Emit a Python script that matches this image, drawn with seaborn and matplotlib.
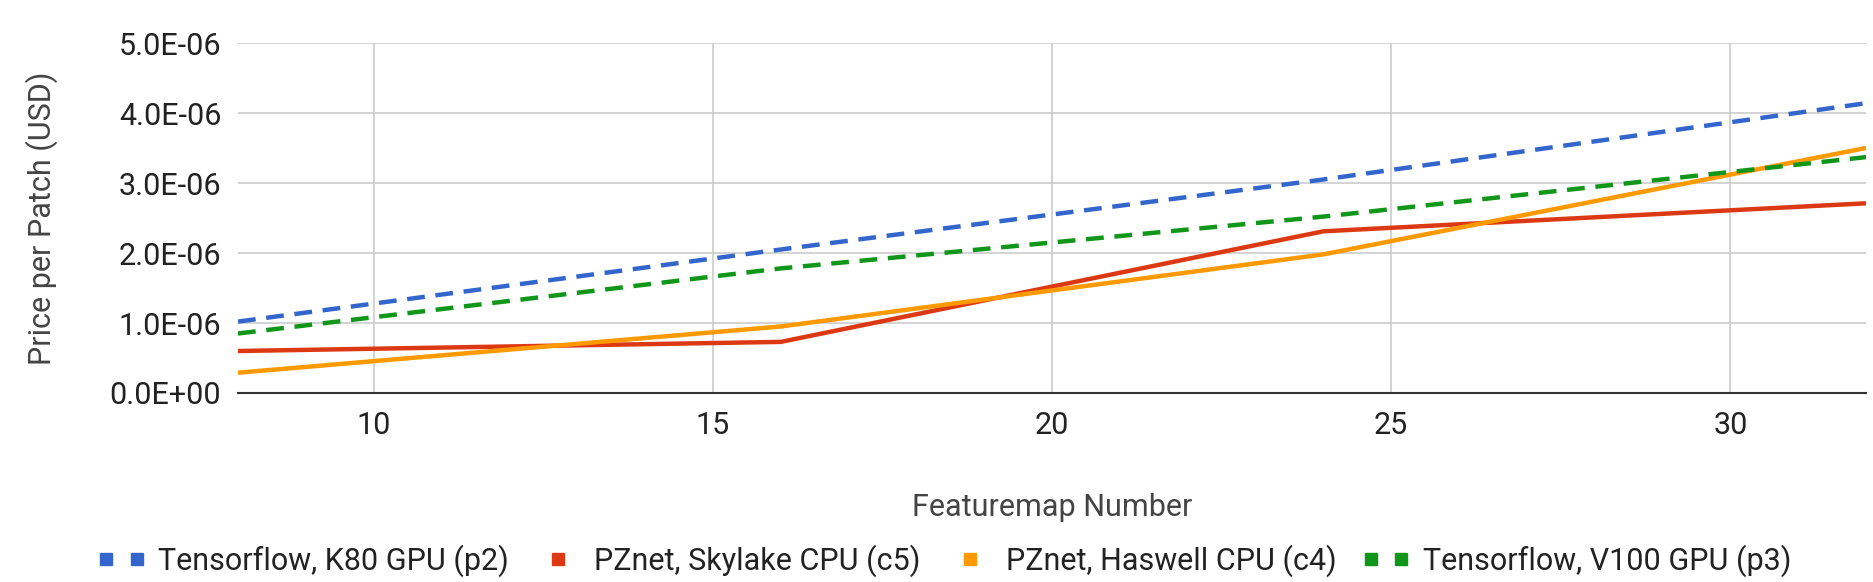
import matplotlib
matplotlib.use("Agg")
import matplotlib.pyplot as plt
import matplotlib.ticker as mticker
from matplotlib.lines import Line2D
from matplotlib.legend_handler import HandlerLine2D
import pandas as pd
import seaborn as sns

# data
featuremaps = [8, 16, 24, 32]
k80_gpu = [1.02e-6, 2.05e-6, 3.05e-6, 4.14e-6]
skylake_cpu = [0.60e-6, 0.73e-6, 2.31e-6, 2.71e-6]
haswell_cpu = [0.29e-6, 0.95e-6, 1.98e-6, 3.50e-6]
v100_gpu = [0.85e-6, 1.78e-6, 2.52e-6, 3.37e-6]

series_names = ["Tensorflow, K80 GPU (p2)", "PZnet, Skylake CPU (c5)",
                "PZnet, Haswell CPU (c4)", "Tensorflow, V100 GPU (p3)"]
series_values = [k80_gpu, skylake_cpu, haswell_cpu, v100_gpu]

df = pd.DataFrame({
    "Featuremap Number": featuremaps * 4,
    "Price": sum(series_values, []),
    "Series": [n for n in series_names for _ in featuremaps],
})

sns.set_theme(style="white")
plt.rcParams["font.family"] = ["Roboto", "DejaVu Sans"]

palette = {series_names[0]: "#3366cc", series_names[1]: "#dc3912",
           series_names[2]: "#ff9900", series_names[3]: "#109618"}
dashes = {series_names[0]: (4, 2.4), series_names[1]: "",
          series_names[2]: "", series_names[3]: (4, 2.4)}

fig = plt.figure(figsize=(18.74, 5.82), dpi=100)
ax = fig.add_axes([238 / 1874, 1 - 393 / 582, (1866 - 238) / 1874, (393 - 43) / 582])

sns.lineplot(data=df, x="Featuremap Number", y="Price", hue="Series", style="Series",
             palette=palette, dashes=dashes, linewidth=3.2, ax=ax, legend=False)

ax.set_xlim(8, 32)
ax.set_ylim(0, 5e-6)
ax.set_xticks([10, 15, 20, 25, 30])
ax.set_yticks([0, 1e-6, 2e-6, 3e-6, 4e-6, 5e-6])
ax.yaxis.set_major_formatter(mticker.FuncFormatter(lambda v, p: f"{v:.1E}"))
ax.grid(True, color="#cccccc", linewidth=1.2)
for s in ["top", "right", "left"]:
    ax.spines[s].set_visible(False)
ax.spines["bottom"].set_color("#333333")
ax.spines["bottom"].set_linewidth(1.5)
ax.tick_params(axis="both", length=0, labelsize=22, colors="#222222")
ax.tick_params(axis="y", pad=12)
ax.tick_params(axis="x", pad=13)

ax.set_xlabel("Featuremap Number", fontsize=22, color="#444444")
ax.xaxis.label.set_va("center")
ax.xaxis.set_label_coords(0.5, (393 - 507) / 350)
ax.set_ylabel("Price per Patch (USD)", fontsize=22, color="#444444")
ax.yaxis.label.set_va("center")
ax.yaxis.set_label_coords((42 - 238) / 1628, 0.5)

# legend: small squares like the reference (two for dashed, one for solid)
handles, hmap = [], {}
for name in series_names:
    h = Line2D([], [], color=palette[name], marker="s", markersize=8, linestyle="none")
    handles.append(h)
    hmap[h] = HandlerLine2D(numpoints=2 if dashes[name] else 1)
fig.legend(handles, series_names, handler_map=hmap, loc="center",
           bbox_to_anchor=(944 / 1874, 1 - 561 / 582), ncol=4, frameon=False,
           fontsize=22, handlelength=1.6, handletextpad=0.4, columnspacing=0.8,
           borderpad=0, labelcolor="#222222")

fig.savefig("out.png", dpi=100)
